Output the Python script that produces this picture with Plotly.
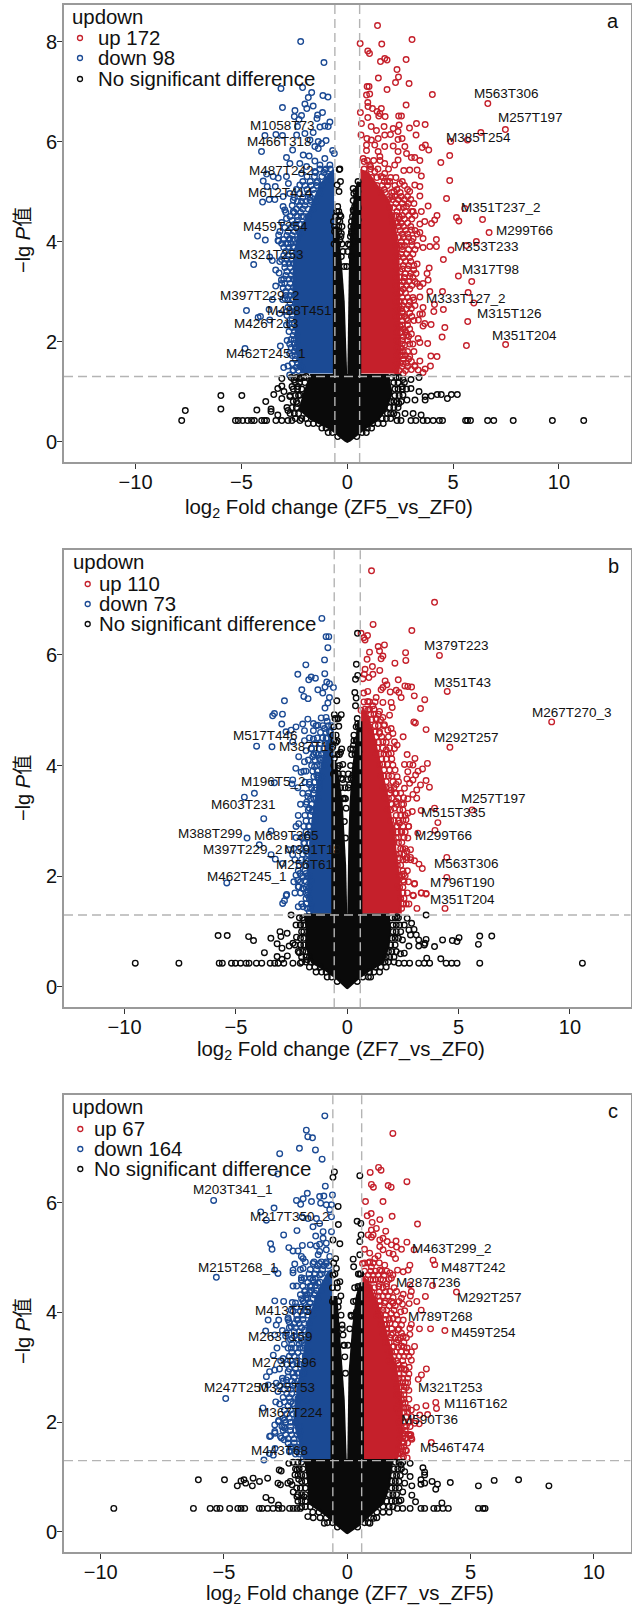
import plotly.graph_objects as go

W, H = 632, 1607
RED, BLUE, BLACK = "#C5202B", "#1B4A94", "#0A0A0A"
FONT = "Liberation Sans, Arial, Noto Sans CJK SC"
THR_Y, THR_X = 1.30, 0.585

# ---------- panel a ----------
a_up = [(1.43,8.32),(3.06,8.04),(.61,7.96),(1.63,7.95),(.97,7.81),(1.05,7.76),(1.57,7.6),(1.77,7.66),(1.88,7.63),(2.78,7.64),(2.35,7.44),(2.42,7.29),(1.47,7.27),(2.28,7.18),(2.92,7.16),(.94,7.1),(1.03,7.1),(1.88,7.04),(1.06,6.95),(.91,6.93),(4.02,6.94),(.97,6.78),(2.78,6.73),(6.64,6.76),(.98,6.7),(1.19,6.66),(1.61,6.66),(1.41,6.6),(1.54,6.56),(.62,6.58),(1.49,6.51),(.97,6.48),(1.79,6.5),(2.43,6.51),(2.56,6.51),(.67,6.36),(1.13,6.3),(1.74,6.3),(2.45,6.33),(2.17,6.26),(2.94,6.27),(3.27,6.36),(3.68,6.34),(7.47,6.24),(1.38,6.22),(2.4,6.2),(6.31,6.18),(.65,6.13),(1.77,6.13),(2.04,6.14),(3.25,6.13),(.93,6.06),(1.14,6.03),(1.46,6.06),(2.4,6.04),(2.59,6.06),(4.89,6.0),(5.68,6.03),(.91,5.93),(1.3,5.93),(1.77,5.9),(2.17,5.91),(2.72,5.9),(3.54,5.88),(3.69,5.93),(3.85,5.83),(.91,5.82),(1.46,5.8),(2.4,5.8),(2.8,5.76),(4.84,5.72),(3.03,5.68),(3.19,5.68),(.75,5.66),(1.54,5.7),(2.4,5.63),(3.43,5.62),(4.42,5.58),(1.06,5.53),(1.77,5.56),(2.24,5.53),(2.67,5.42),(2.95,5.43),(3.3,5.43),(3.5,5.31),(4.84,5.22),(1.77,5.36),(2.48,5.16),(3.19,5.13),(3.43,5.1),(2.95,5.0),(3.43,4.91),(4.69,4.86),(3.82,4.71),(5.55,4.66),(2.8,4.7),(3.11,4.6),(3.5,4.6),(4.24,4.52),(5.16,4.48),(6.39,4.44),(5.27,4.41),(4.13,4.43),(3.98,4.36),(3.66,4.4),(3.43,4.35),(6.7,4.18),(3.43,4.18),(3.03,4.23),(3.11,4.06),(4.21,4.04),(3.58,4.06),(4.21,3.9),(3.9,3.9),(3.58,3.88),(6.1,4.0),(5.63,3.92),(4.9,3.83),(4.54,3.64),(5.25,3.31),(5.88,3.2),(3.87,3.47),(3.77,3.36),(3.3,3.55),(3.14,3.43),(3.82,3.23),(3.3,3.16),(3.58,3.16),(3.43,3.1),(2.95,3.3),(3.9,3.0),(4.5,3.0),(5.71,2.98),(3.43,2.89),(3.14,2.83),(5.98,2.77),(4.12,2.74),(3.58,2.68),(4.54,2.64),(3.03,2.66),(4.09,2.6),(3.43,2.55),(3.55,2.55),(2.8,2.46),(3.36,2.43),(5.69,2.4),(3.66,2.36),(3.58,2.31),(3.96,2.34),(4.61,2.28),(3.03,2.15),(2.8,2.13),(3.35,2.06),(4.48,2.09),(3.43,1.98),(3.8,1.96),(5.63,1.92),(7.48,1.94),(2.72,1.93),(3.95,1.71),(4.24,1.7),(2.48,1.71),(2.95,1.7),(3.43,1.61),(3.03,1.6),(3.93,1.51),(2.64,1.56),(3.68,1.45),(3.35,1.43),(3.03,1.44),(2.64,1.36),(3.58,1.38),(3.19,1.52),(2.4,2.0),(2.5,2.3),(2.45,2.7),(2.55,3.0),(2.5,3.4),(2.4,3.7),(2.6,3.9),(2.3,4.4),(2.45,4.5),(2.1,4.9),(2.2,5.0),(1.9,5.2),(1.6,5.3),(1.3,5.4),(1.1,5.5),(.8,5.6),(2.6,2.6),(2.7,3.2),(2.5,1.8),(2.75,2.2)]
a_down = [(-2.2,8.0),(-1.1,7.58),(-3.13,7.06),(-2.11,7.08),(-1.68,6.98),(-1.84,6.88),(-1.15,6.92),(-.91,6.89),(-2.0,6.75),(-1.61,6.71),(-1.91,6.66),(-3.06,6.68),(-2.47,6.62),(-2.5,6.5),(-2.16,6.52),(-2.28,6.44),(-1.17,6.58),(-1.4,6.53),(-1.43,6.46),(-.82,6.39),(-1.06,6.31),(-1.29,6.29),(-.9,6.3),(-2.35,6.3),(-3.89,6.12),(-3.37,6.14),(-3.06,6.12),(-2.39,6.13),(-2.0,6.16),(-1.61,6.18),(-1.76,6.03),(-1.37,6.0),(-1.0,6.02),(-1.21,5.96),(-1.53,5.9),(-1.37,5.86),(-4.05,5.8),(-2.58,5.83),(-.69,5.82),(-.61,5.76),(-2.87,5.68),(-2.08,5.73),(-1.8,5.71),(-1.06,5.66),(-1.53,5.61),(-2.71,5.56),(-2.24,5.56),(-.82,5.53),(-1.29,5.53),(-1.92,5.5),(-3.81,5.35),(-3.5,5.3),(-3.26,5.27),(-2.87,5.3),(-2.16,5.36),(-1.53,5.4),(-1.06,5.43),(-3.97,5.21),(-3.78,5.1),(-3.4,5.1),(-2.78,5.16),(-2.24,5.13),(-1.45,5.18),(-.74,5.23),(-3.69,4.84),(-4.0,4.79),(-3.42,4.84),(-3.03,4.9),(-2.71,4.96),(-2.55,4.83),(-2.16,4.8),(-1.76,4.83),(-3.03,4.7),(-2.95,4.63),(-2.55,4.6),(-2.16,4.5),(-2.87,4.46),(-3.1,4.38),(-2.55,4.33),(-3.18,4.2),(-4.24,4.11),(-3.87,4.03),(-3.24,4.13),(-3.24,4.01),(-2.71,4.06),(-2.24,4.16),(-2.55,3.9),(-3.27,4.02),(-2.8,3.96),(-3.66,3.69),(-3.54,3.62),(-4.42,3.54),(-3.19,3.6),(-3.38,3.43),(-3.22,3.37),(-3.11,3.23),(-3.38,3.11),(-3.03,3.07),(-3.54,2.84),(-2.95,2.86),(-3.69,2.64),(-4.76,2.62),(-3.19,2.56),(-4.21,2.48),(-4.1,2.5),(-3.66,2.43),(-2.87,2.33),(-2.84,2.02),(-2.72,1.95),(-4.83,1.86),(-3.16,1.91),(-2.72,1.76),(-2.4,1.86),(-2.8,1.51),(-3.0,1.48),(-2.56,1.43),(-2.72,1.33),(-2.24,1.5)]
a_none = [(-7.82,.42),(-5.28,.42),(-5.15,.42),(-4.94,.42),(-4.71,.42),(-4.52,.42),(-4.39,.42),(-4.04,.42),(-3.91,.42),(-3.81,.42),(-3.37,.42),(-3.09,.42),(-2.8,.42),(-2.61,.42),(-2.23,.42),(2.35,.42),(2.54,.42),(3.01,.42),(3.24,.42),(3.58,.42),(3.78,.42),(4.06,.42),(4.35,.42),(4.5,.42),(5.59,.42),(5.68,.42),(5.82,.42),(6.63,.42),(6.92,.42),(7.84,.42),(9.69,.42),(11.17,.42),(-7.65,.62),(-5.97,.92),(-4.98,.92),(-5.97,.65),(-4.27,.63),(-3.85,.8),(-3.6,.65),(-3.6,.6),(-3.47,.94),(-3.28,1.06),(-3.09,1.11),(-2.99,1.0),(-3.09,.86),(-2.61,1.1),(-2.33,1.1),(-2.23,.93),(-2.71,.9),(-2.36,.76),(-3.28,.53),(-2.8,.62),(-3.09,1.26),(-2.52,1.23),(-2.23,1.26),(-1.94,1.3),(2.63,1.24),(3.01,1.24),(3.39,1.28),(2.59,1.1),(3.01,1.06),(3.39,1.0),(3.68,.9),(3.97,.91),(4.25,.94),(4.44,.94),(4.73,.86),(4.92,.94),(5.2,.94),(2.63,.93),(2.82,.83),(3.2,.83),(2.44,.76),(2.35,.53),(2.73,.56),(3.11,.56),(3.49,.53),(3.68,.83),(-.35,5.45),(-.32,5.2),(-.39,5.0),(-.48,5.13),(.51,5.2),(.28,5.06),(.31,4.96),(.28,4.82),(.43,4.9),(.51,4.66),(.28,4.63),(.35,4.46),(.51,4.43),(-.35,4.53),(-.43,4.43),(-.28,4.16),(-.51,4.23),(.2,4.16),(.12,3.93),(.31,4.0),(-.35,4.03),(-.28,3.7),(.2,3.7),(-.38,5.44)]
a_up_rows = {5.62:[.95,1.25,1.55],5.45:[.8,1.1,1.45,1.95],5.28:[1.15,1.4,1.7,2.05,2.3],5.12:[1.4,1.65,1.9,2.25,2.7],4.98:[1.6,1.8,2.1,2.5],4.84:[1.95,2.15,2.4,2.7,3.0],4.68:[2.0,2.2,2.45,2.65],4.52:[2.1,2.3,2.6,2.9,3.2],4.37:[2.15,2.35,2.55,2.85],4.22:[2.25,2.5,2.75,3.2],4.08:[2.25,2.45,2.65,2.9],3.92:[2.3,2.5,2.7,3.05,3.3],3.75:[2.3,2.55,2.8,3.1],3.6:[2.3,2.5,2.75,3.0],3.45:[2.3,2.6,2.85],3.28:[2.3,2.5,2.7,3.1],3.12:[2.3,2.55,2.8,3.05],2.97:[2.3,2.5,2.75],2.8:[2.3,2.5,2.7,2.95],2.65:[2.3,2.55,2.8],2.5:[2.3,2.5,2.7,3.05],2.33:[2.35,2.6,2.85],2.18:[2.35,2.55,2.75],2.02:[2.35,2.6,2.85],1.87:[2.35,2.55],1.72:[2.35,2.6,2.75],1.57:[2.3,2.5,2.8],1.42:[2.3,2.45,2.75],
    5.2:[1.75,2.0,2.6],5.04:[1.75,2.35,2.85],4.9:[2.25,2.55,2.85],4.76:[2.3,2.6,2.9,3.15],4.6:[2.35,2.75,3.05],4.45:[2.45,2.7,3.05],4.3:[2.45,2.65,3.0],4.15:[2.6,2.85,3.3],4.0:[2.55,2.8,3.05],3.84:[2.6,2.9,3.2],3.68:[2.65,2.95],3.52:[2.65,2.9,3.15],3.36:[2.75,3.0,3.25],3.2:[2.6,2.9,3.2],3.05:[2.65,2.95],2.88:[2.6,2.85,3.1],2.72:[2.6,2.9,3.2],2.57:[2.6,2.95],2.42:[2.6,2.85,3.15],2.25:[2.65,2.95],2.1:[2.65,2.9],1.95:[2.6,2.95,3.1],1.8:[2.65,2.85,3.15],1.65:[2.65,2.9],1.5:[2.6,2.85,3.2]}
a_down_rows = {5.45:[-.8,-1.0,-1.3],5.3:[-.9,-1.2,-1.55,-1.9],5.12:[-1.2,-1.45,-1.7,-2.0],4.96:[-1.3,-1.55,-1.85,-2.25],4.8:[-1.45,-1.7,-1.95,-2.35],4.65:[-1.6,-1.85,-2.1,-2.4],4.5:[-1.85,-2.05,-2.35,-2.7],4.35:[-2.0,-2.25,-2.45],4.2:[-2.3,-2.5,-2.8],4.04:[-2.35,-2.55,-2.75,-3.0],3.88:[-2.55,-2.75,-3.0],3.72:[-2.55,-2.8,-3.0],3.56:[-2.55,-2.75,-2.95],3.4:[-2.55,-2.85],3.25:[-2.55,-2.75,-3.0],3.08:[-2.55,-2.8],2.92:[-2.5,-2.7,-2.9],2.76:[-2.45,-2.7],2.6:[-2.45,-2.65,-2.85],2.44:[-2.4,-2.6],2.28:[-2.4,-2.6],2.12:[-2.35,-2.55],1.96:[-2.35,-2.5],1.8:[-2.3,-2.5],1.64:[-2.25,-2.45],1.48:[-2.15,-2.4],
    5.38:[-1.1,-1.5],5.2:[-1.4,-1.75,-2.1],5.04:[-1.6,-1.9,-2.4],4.88:[-1.75,-2.1,-2.5],4.72:[-2.0,-2.25,-2.6],4.58:[-2.2,-2.5,-2.9],4.42:[-2.35,-2.6],4.28:[-2.4,-2.65,-2.95],4.12:[-2.6,-2.85],3.96:[-2.65,-2.9,-3.1],3.8:[-2.65,-2.9],3.64:[-2.65,-2.85,-3.1],3.48:[-2.7,-2.95],3.32:[-2.65,-2.9],3.16:[-2.7,-2.95,-3.1],3.0:[-2.65,-2.9],2.84:[-2.6,-2.8,-3.05],2.68:[-2.6,-2.8],2.52:[-2.6,-2.85],2.36:[-2.6,-2.75],2.2:[-2.5,-2.75],2.04:[-2.5,-2.65],1.88:[-2.45,-2.65],1.72:[-2.45,-2.6],1.56:[-2.35,-2.6],1.42:[-2.3,-2.55]}
a_none_rows = {1.28:[-2.05,-2.2,-2.4,-2.65,2.1,2.3,2.45],1.18:[-2.0,-2.25,-2.45,2.2,2.4,2.7],1.05:[-2.15,-2.35,-2.55,2.25,2.4,2.6,2.8],.92:[-2.3,-2.45,-2.7,2.25,2.45],.8:[-2.4,-2.55,2.05,2.2,2.35,2.55],.68:[-2.4,-2.6,-2.85,2.0,2.2,2.4],.56:[-2.3,-2.5,-2.7,1.9,2.05,2.2],.46:[-1.95,-2.15,-2.45,1.65,1.85,2.05],.36:[-1.35,-1.6,-1.85,1.2,1.45,1.7],.27:[-1.0,-1.2,.95,1.15],.18:[-.7,-.9,.7,.9],.1:[-.45,.45],5.0:[.4,.5],4.7:[.35,.5,-.45],4.5:[.25,.4,-.55,-.3],4.3:[.18,.3,-.6,-.4,-.25],4.1:[.15,-.5,-.3],3.95:[-.62,-.45,-.25,.05],3.8:[-.2,.02],3.5:[-.15,-.02],4.6:[.3,.42,-.4,-.5],4.4:[.2,.45,-.35,-.65],4.2:[.2,.35,-.6,-.4]}
a_up_mass = [(.62,1.36),(2.45,1.36),(2.55,1.8),(2.5,2.4),(2.5,3.1),(2.45,3.8),(2.3,4.3),(2.0,4.83),(1.5,5.1),(1.0,5.4),(.62,5.45)]
a_down_mass = [(-.62,1.36),(-2.2,1.36),(-2.45,1.8),(-2.5,2.4),(-2.6,3.1),(-2.55,3.76),(-2.35,4.16),(-1.95,4.5),(-1.3,5.16),(-.8,5.4),(-.62,5.45)]
a_none_masses = [
    [(0,-.03),(-.13,0),(-.8,.23),(-1.75,.43),(-2.3,.63),(-2.1,.96),(-1.75,1.35),(1.96,1.35),(2.15,.96),(1.87,.63),(1.5,.43),(.82,.23),(.15,0)],
    [(-.68,1.3),(-.68,4.3),(-.42,4.3),(-.26,3.6),(-.12,2.8),(-.06,2.2),(0,1.3)],
    [(0,1.3),(.02,2.2),(.04,2.8),(.08,3.6),(.14,4.2),(.28,4.8),(.45,5.2),(.66,5.2),(.66,1.3)]]
a_labels = [("M563T306",7.52,6.96),("M257T197",8.65,6.48),("M385T254",6.18,6.08),("M351T237_2",7.25,4.68),("M299T66",8.39,4.22),("M353T233",6.56,3.9),("M317T98",6.77,3.44),("M333T127_2",5.62,2.86),("M315T126",7.68,2.56),("M351T204",8.35,2.12),("M397T229_2",-4.14,2.93),("M488T451",-2.27,2.63),("M426T213",-3.81,2.36),("M462T245_1",-3.85,1.76),("M1058T73",-3.06,6.32),("M466T318",-3.21,6.0),("M487T242",-3.1,5.42),("M612T414",-3.15,4.99),("M459T254",-3.39,4.3),("M321T253",-3.56,3.74)]

# ---------- panel b ----------
b_up = [(1.09,7.52),(3.92,6.95),(1.16,6.55),(2.9,6.44),(.62,6.39),(.91,6.35),(.74,6.31),(.8,6.27),(1.39,6.15),(1.67,6.18),(1.0,6.05),(1.45,6.07),(2.62,6.04),(4.14,5.99),(1.6,5.98),(1.52,5.93),(.89,5.92),(2.63,5.9),(2.14,5.85),(1.13,5.79),(.8,5.74),(1.46,5.72),(.77,5.65),(1.15,5.65),(.97,5.59),(.7,5.57),(1.7,5.53),(2.29,5.55),(1.78,5.46),(1.6,5.41),(1.52,5.37),(2.59,5.44),(2.72,5.43),(2.89,5.42),(4.49,5.34),(1.93,5.33),(2.2,5.36),(2.32,5.32),(.92,5.34),(.74,5.31),(2.42,5.23),(3.01,5.26),(3.48,5.19),(1.3,5.23),(1.6,5.14),(1.97,5.14),(.92,5.16),(2.02,5.05),(3.29,5.03),(1.15,5.08),(.62,5.0),(1.45,4.98),(.92,5.0),(1.9,4.91),(1.6,4.87),(1.3,4.85),(2.99,4.79),(3.06,4.77),(9.18,4.79),(1.67,4.74),(3.54,4.65),(1.97,4.67),(1.82,4.64),(1.45,4.58),(1,4.7),(2.05,4.58),(2.51,4.52),(2.12,4.43),(1.6,4.43),(4.61,4.33),(2.24,4.37),(2.12,4.31),(1.75,4.28),(1.97,4.22),(2.69,4.2),(3.04,4.13),(2.57,4.02),(2.8,4.02),(2.95,4.01),(3.6,4.04),(3.38,3.94),(2.05,4.01),(3.18,3.9),(2.72,3.89),(3.07,3.83),(2.24,3.8),(2.68,3.76),(2.95,3.74),(3.54,3.73),(3.29,3.65),(2.8,3.68),(3.69,3.61),(2.2,3.66),(2.57,3.59),(3.12,3.56),(1.97,3.56),(2.2,3.5),(2.95,3.48),(2.53,3.42),(2.72,3.4),(3.12,3.41),(2.53,3.3),(2.2,3.35),(5.61,3.2),(3.92,3.23),(3.32,3.19),(2.92,3.17),(2.72,3.14),(2.12,3.23),(2.64,3.02),(4.07,2.97),(2.35,2.96),(2.76,2.9),(2.2,2.9),(3.94,2.83),(3.17,2.78),(2.42,2.81),(2.72,2.69),(2.2,2.69),(2.5,2.49),(2.84,2.48),(2.68,2.45),(4.47,2.34),(2.68,2.34),(2.84,2.34),(2.35,2.33),(3.02,2.28),(3.22,2.22),(3.37,2.14),(2.35,2.02),(2.53,2.04),(4.47,1.98),(2.5,1.93),(3.02,1.87),(2.27,1.81),(3.32,1.7),(3.54,1.69),(2.95,1.66),(3.02,1.86),(3.33,1.7),(3.54,1.68),(2.97,1.65),(2.77,1.5),(3.13,1.42),(4.39,1.42),(2.39,1.6),(2.44,1.42)]
b_down = [(-1.14,6.66),(-.95,6.33),(-.83,6.33),(-.87,6.13),(-1.02,5.91),(-1.86,5.82),(-2.22,5.65),(-1.01,5.66),(-1.62,5.6),(-1.73,5.55),(-1.43,5.58),(-.92,5.51),(-.8,5.48),(-.62,5.41),(-1.0,5.42),(-2.04,5.37),(-1.32,5.37),(-1.1,5.31),(-1.95,5.25),(-1.76,5.21),(-2.82,5.17),(-.8,5.23),(-.87,5.13),(-1.0,5.04),(-3.27,4.94),(-3.35,4.9),(-2.91,4.93),(-1.77,4.84),(-1.17,4.86),(-.95,4.87),(-.9,4.8),(-2.94,4.75),(-2.0,4.75),(-2.3,4.7),(-1.52,4.76),(-1.32,4.73),(-2.52,4.64),(-1.02,4.67),(-1.92,4.63),(-1.52,4.63),(-2.75,4.61),(-.8,4.61),(-1.92,4.45),(-1.52,4.48),(-4.07,4.35),(-3.38,4.34),(-2.45,4.43),(-.95,4.49),(-1.85,4.27),(-1.62,4.31),(-1.4,4.22),(-1.25,4.13),(-2.18,4.16),(-1.92,4.07),(-1.55,4.16),(-1.1,4.13),(-2.31,3.95),(-2.07,3.88),(-1.85,3.9),(-1.47,3.98),(-1.37,3.83),(-1.32,3.77),(-3.27,3.69),(-2.45,3.74),(-2.48,3.67),(-2.22,3.6),(-1.7,3.66),(-1.25,3.7),(-4.17,3.5),(-4.62,3.43),(-1.77,3.44),(-1.47,3.56),(-1.82,3.34),(-1.4,3.41),(-1.7,3.23),(-1.58,3.17),(-3.75,3.04),(-1.43,3.08),(-2.18,2.95),(-1.73,2.9),(-3.42,2.82),(-2.0,2.69),(-4.5,2.69),(-1.77,2.75),(-3.95,2.57),(-2.63,2.48),(-1.92,2.6),(-3.42,2.39),(-3.23,2.31),(-2.45,2.39),(-1.85,2.45),(-2.9,2.23),(-2.15,2.2),(-1.77,2.27),(-2.3,2.02),(-2.12,2.05),(-1.85,2.05),(-5.41,1.88),(-2.22,1.93),(-1.92,1.92),(-1.62,1.93),(-2.18,1.81),(-2.0,1.78),(-1.77,1.72),(-2.72,1.67),(-2.74,1.65),(-2.82,1.56),(-2.9,1.51),(-2.2,1.81),(-1.95,1.77),(-2.2,1.45),(-1.98,1.45),(-1.7,1.36),(-1.62,1.48),(-1.79,1.66)]
b_none = [(.46,6.39),(.41,5.83),(.47,5.63),(.37,5.56),(.34,5.32),(.4,5.22),(.37,5.08),(.47,4.76),(.4,4.46),(.28,4.37),(.52,4.25),(-.47,5.17),(-.58,4.92),(-.27,4.92),(-.47,4.84),(-.38,4.71),(-.65,4.55),(-.5,4.42),(-.65,4.34),(-.3,4.24),(-.58,4.13),(-.2,4.02),(-.43,3.95),(-.27,3.77),(-.5,3.65),(.25,3.83),(.17,3.77),(-.13,3.41),(-.05,3.23),(-.13,2.99),(-.08,2.69),(.1,3.65),(-9.52,.43),(-7.56,.43),(-5.75,.43),(-5.61,.43),(-5.2,.43),(-5.02,.43),(-4.79,.43),(-4.54,.43),(-4.41,.43),(-4.08,.43),(-3.84,.43),(-3.46,.43),(-3.26,.43),(-3.1,.43),(-2.85,.43),(-2.44,.43),(-2.11,.43),(2.31,.43),(2.56,.43),(2.8,.43),(3.21,.43),(3.46,.43),(3.7,.43),(4.44,.43),(4.69,.43),(4.93,.43),(5.95,.43),(10.56,.43),(-5.8,.93),(-5.39,.93),(-4.43,.91),(-4.21,.84),(-3.43,.88),(-3.02,1.0),(-2.98,.91),(-2.7,.97),(-3.15,.78),(-2.93,.7),(-2.28,.9),(-2.52,1.3),(-2.11,1.12),(-1.95,1.21),(-2.44,.79),(-2.61,.74),(-2.11,.76),(-2.15,.62),(-3.72,.62),(-3.15,.55),(-2.93,.5),(-2.69,.56),(-1.79,.49),(3.54,1.3),(2.69,1.24),(2.89,1.15),(2.23,1.27),(2.56,1.12),(2.77,1.03),(3.0,1.04),(3.1,.94),(2.84,.94),(3.21,.85),(3.54,.86),(3.49,.79),(3.21,.74),(3.46,.76),(2.77,.74),(3.92,.73),(4.28,.85),(4.72,.84),(4.93,.82),(5.02,.89),(5.95,.92),(5.89,.77),(6.49,.92),(4.2,.51),(3.57,.52),(2.48,.85),(2.39,.6),(2.56,.61)]
b_up_rows = {5.02:[.8,1.0,1.2],4.83:[.9,1.1,1.3,1.5],4.61:[1.05,1.25,1.45],4.42:[1.2,1.4,1.75],4.21:[1.3,1.5,1.65,1.85],4.02:[1.45,1.6,1.8],3.81:[1.5,1.65,1.85,2.0],3.6:[1.6,1.75,1.9,2.1],3.41:[1.7,1.85,2.0,2.3],3.2:[1.8,1.95,2.35,2.5],3.01:[1.95,2.1,2.3,2.5],2.8:[2.05,2.25,2.45,2.6],2.61:[2.1,2.3,2.45],2.4:[2.2,2.35,2.55],2.2:[2.25,2.4],2.01:[2.3,2.45,2.6],1.8:[2.35,2.5],1.6:[2.4,2.55],
    5.15:[.75,1.0,1.25],4.93:[1.05,1.2,1.4],4.72:[1.25,1.4,1.65],4.52:[1.3,1.55,1.85],4.32:[1.35,1.6,1.9],4.12:[1.55,1.75,2.0],3.92:[1.65,1.9,2.15],3.71:[1.75,2.05,2.3],3.5:[1.9,2.15,2.4],3.3:[2.0,2.2,2.45],3.1:[2.2,2.4,2.6],2.9:[2.25,2.5,2.75],2.7:[2.3,2.55],2.5:[2.4,2.6],2.3:[2.5,2.65,2.85],2.1:[2.5,2.7],1.9:[2.55,2.75],1.7:[2.5,2.7],1.5:[2.5,2.65]}
b_down_rows = {4.6:[-.75,-.95,-1.2],4.4:[-.8,-1.0,-1.2,-1.45],4.2:[-.95,-1.15,-1.3,-1.5],4.0:[-1.05,-1.2,-1.35,-1.6],3.8:[-1.15,-1.3,-1.5],3.6:[-1.25,-1.4,-1.6],3.4:[-1.3,-1.5,-1.65],3.2:[-1.4,-1.55,-1.75],3.0:[-1.45,-1.6,-1.85],2.8:[-1.5,-1.65,-1.85],2.6:[-1.55,-1.7,-1.95],2.4:[-1.6,-1.75,-2.0],2.2:[-1.7,-1.9],2.0:[-1.7,-1.8,-2.0],1.8:[-1.7,-1.85],1.6:[-1.7,-1.85],1.42:[-1.65,-1.8],
    4.72:[-.7,-.85,-1.1,-1.4],4.5:[-.9,-1.1,-1.35,-1.7],4.3:[-1.05,-1.25,-1.6],4.1:[-1.2,-1.45,-1.75],3.9:[-1.35,-1.55,-1.95],3.7:[-1.45,-1.7,-1.9],3.5:[-1.5,-1.75,-2.0],3.3:[-1.6,-1.85,-2.1],3.1:[-1.65,-1.9,-2.2],2.9:[-1.7,-1.95,-2.3],2.7:[-1.8,-2.05,-2.3],2.5:[-1.85,-2.1,-2.4],2.3:[-1.85,-2.05,-2.35],2.1:[-1.9,-2.2],1.9:[-1.85,-2.1,-2.4],1.7:[-1.85,-2.1,-2.35],1.5:[-1.85,-2.05]}
b_none_rows = {1.25:[-2.0,-2.15,2.0,2.15,2.3],1.12:[-1.95,-2.1,-2.3,2.05,2.2,2.35],1.0:[-1.95,-2.05,2.05,2.2,2.4],.88:[-1.95,-2.1,2.0,2.15,2.3],.76:[-1.95,-2.1,-2.35,1.95,2.15],.64:[-1.85,-2.0,-2.2,1.85,2.0,2.2],.54:[-1.7,-1.85,-2.05,1.75,1.9,2.1],.45:[-1.65,-1.85,-2.05,1.7,1.85,2.1],.36:[-1.2,-1.45,-1.7,1.25,1.5,1.75],.27:[-.95,-1.15,-1.4,1.0,1.2,1.45],.18:[-.7,-.9,.7,.95,1.05],.1:[-.45,.45],4.7:[.4,.5,-.6],4.45:[.3,.45,-.6,-.45],4.2:[.2,.35,-.65,-.45,-.35],4.0:[.15,-.6,-.35],3.85:[-.62,-.4,-.2,.05],3.6:[-.3,-.1,.05],3.4:[-.2,-.08],4.3:[-.25,.15,.25],4.55:[-.5,.3],4.85:[-.55,-.4,.45],3.75:[-.2,.02]}
b_up_mass = [(.62,1.33),(2.45,1.33),(2.45,1.7),(2.3,2.24),(2.1,2.84),(1.85,3.44),(1.55,4.0),(1.2,4.6),(.85,5.0),(.62,5.0)]
b_down_mass = [(-.62,1.33),(-1.65,1.33),(-1.8,1.6),(-1.8,2.0),(-1.7,2.6),(-1.55,3.2),(-1.3,3.8),(-1.0,4.3),(-.75,4.6),(-.62,4.6)]
b_none_masses = [
    [(0,-.04),(-.05,-.03),(-.48,.13),(-.97,.28),(-1.62,.43),(-1.9,.73),(-1.87,1.03),(-1.95,1.33),(1.9,1.33),(1.98,1.03),(1.9,.73),(1.66,.43),(1,.28),(.5,.13),(.05,-.03)],
    [(-.72,1.3),(-.72,4.1),(-.5,4.1),(-.32,3.7),(-.2,3.3),(-.1,2.7),(-.05,2.2),(0,1.3)],
    [(0,1.3),(.02,2.0),(.05,2.7),(.1,3.3),(.2,3.9),(.35,4.4),(.45,4.8),(.68,4.8),(.68,1.3)]]
b_labels = [("M517T446",-3.68,4.55),("M387T18",-1.77,4.34),("M196T5_2",-3.3,3.71),("M603T231",-4.67,3.29),("M388T299",-6.16,2.77),("M689T365",-2.75,2.73),("M397T229_2",-4.68,2.48),("M391T18",-1.55,2.48),("M256T61",-1.93,2.22),("M462T245_1",-4.52,2.0),("M379T223",4.92,6.17),("M351T43",5.18,5.51),("M267T270_3",10.11,4.96),("M292T257",5.37,4.5),("M257T197",6.56,3.41),("M515T335",4.77,3.16),("M299T66",4.34,2.74),("M563T306",5.34,2.24),("M796T190",5.19,1.89),("M351T204",5.18,1.58)]

# ---------- panel c ----------
c_up = [(1.85,7.26),(1.27,6.64),(1.37,6.59),(.93,6.55),(2.42,6.38),(.98,6.33),(1.06,6.28),(1.66,6.31),(1.78,6.28),(.74,6.02),(1.45,6.02),(.97,5.8),(.81,5.76),(1.82,5.75),(1.32,5.69),(1.01,5.64),(2.85,5.61),(1.18,5.53),(.98,5.5),(1.56,5.48),(.85,5.41),(1.05,5.41),(.98,5.37),(1.45,5.35),(1.32,5.32),(1.98,5.3),(2.42,5.28),(1.62,5.29),(1.79,5.23),(1.32,5.2),(2.0,5.19),(2.2,5.15),(.7,5.15),(2.71,5.14),(1.45,5.14),(.91,5.08),(1.7,5.08),(1.25,5.03),(1.86,5.06),(1.96,4.98),(1.12,4.98),(3.48,4.95),(3.55,4.87),(2.54,4.86),(.62,4.89),(.91,4.92),(1.52,4.86),(2.47,4.77),(2.27,4.74),(2.04,4.77),(1.73,4.72),(1.32,4.77),(.98,4.83),(1.79,4.62),(1.05,4.59),(1.45,4.59),(3.46,4.49),(2.54,4.5),(1.59,4.47),(4.43,4.37),(2.6,4.38),(2.27,4.33),(2,4.38),(1.73,4.38),(1.28,4.47),(3.17,4.29),(2.56,4.3),(2.2,4.26),(1.86,4.27),(1.32,4.21),(2.82,4.2),(2.51,4.16),(2.24,4.15),(1.86,4.17),(1.52,4.17),(2.17,4.01),(2.33,4.03),(3.0,4.04),(1.79,3.98),(1.45,4.04),(1.25,3.97),(1.86,3.89),(2.27,3.86),(2.6,3.78),(2.2,3.77),(1.73,3.8),(2.93,3.7),(3.38,3.7),(3.96,3.67),(2.54,3.71),(2.06,3.68),(2.54,3.6),(2.27,3.56),(1.79,3.59),(1.93,3.53),(2.06,3.5),(2.73,3.38),(2.2,3.39),(2.43,3.35),(2.6,3.28),(2.2,3.28),(1.89,3.38),(2.6,3.13),(2.06,3.07),(3.21,2.97),(2.51,3.0),(2.37,2.95),(2.2,2.98),(3.01,2.86),(2.88,2.78),(2.36,2.72),(2.4,2.63),(2.06,2.71),(2.16,2.5),(2.2,2.4),(3.59,2.36),(3.62,2.25),(3.19,2.3),(2.81,2.27),(2.37,2.26),(2.6,2.22),(3.26,2.14),(2.94,2.13),(2,2.25),(2.2,2.07),(2.54,2.01),(2.74,1.98),(2.33,1.92),(2.56,1.75),(2.6,1.71),(2.27,1.74),(3.41,1.63),(2.58,1.77),(2.62,1.69),(2.92,1.97),(2.25,1.65),(2.18,1.55),(2.37,1.49),(2.28,1.37),(2.43,1.35),(2.13,1.43),(2.55,1.92),(2.25,1.8)]
c_down = [(-.91,7.58),(-1.66,7.32),(-1.6,7.2),(-1.41,7.18),(-2.74,6.89),(-1.94,6.99),(-1.29,6.96),(-1.02,6.79),(-2.81,6.52),(-.89,6.3),(-1.62,6.17),(-.6,6.14),(-5.42,6.04),(-2.06,6.04),(-1.79,6.07),(-1.45,6.02),(-1.12,6.11),(-.95,6.12),(-1.89,5.97),(-1.08,5.99),(-.85,5.96),(-2.97,5.9),(-.64,5.96),(-3.51,5.83),(-.71,5.87),(-1.83,5.74),(-1.59,5.71),(-1.25,5.71),(-.64,5.74),(-3.28,5.68),(-1.39,5.56),(-1.12,5.62),(-2.04,5.49),(-2.58,5.41),(-1.28,5.39),(-.98,5.47),(-.64,5.47),(-.98,5.35),(-3.11,5.25),(-3.05,5.15),(-2.37,5.18),(-1.82,5.22),(-1.5,5.23),(-1.25,5.21),(-1.12,5.24),(-.85,5.26),(-2.2,5.12),(-2.0,5.12),(-.85,5.14),(-1.12,5.11),(-1.86,5.02),(-1.79,4.98),(-1.18,5.05),(-.71,5.02),(-2.13,4.88),(-1.39,4.89),(-1.79,4.8),(-1.12,4.89),(-.85,4.89),(-2.94,4.77),(-2.81,4.71),(-2.2,4.77),(-2.2,4.72),(-5.31,4.64),(-1.86,4.63),(-1.86,4.59),(-1.39,4.59),(-1.12,4.68),(-2.2,4.48),(-1.45,4.47),(-1.18,4.53),(-1.73,4.38),(-1.52,4.36),(-1.32,4.35),(-1.68,4.26),(-1.79,4.21),(-2.94,4.21),(-2.58,4.2),(-2.23,4.18),(-1.52,4.17),(-1.73,4.04),(-2.27,4.04),(-3.21,3.86),(-2.4,3.9),(-2.78,3.86),(-2.88,3.77),(-2.36,3.83),(-2,3.86),(-2.13,3.8),(-2.27,3.74),(-3.31,3.66),(-2.63,3.67),(-2.47,3.62),(-2.94,3.59),(-1.73,3.68),(-1.86,3.47),(-2.23,3.53),(-2.85,3.35),(-2.4,3.35),(-2.27,3.35),(-1.93,3.35),(-3,3.22),(-1.52,3.28),(-2.6,3.16),(-2.04,3.07),(-3.15,2.92),(-2.94,2.95),(-2.63,2.8),(-3.28,2.83),(-2.4,2.92),(-2.04,2.89),(-1.73,2.89),(-2.88,2.71),(-2.47,2.77),(-3.21,2.68),(-2.13,2.71),(-4.93,2.43),(-1.79,2.59),(-2.81,2.56),(-2.74,2.33),(-3.42,2.26),(-2.0,2.43),(-2.2,2.34),(-1.66,2.4),(-2.78,2.03),(-2.94,1.95),(-2.54,2.04),(-2.58,1.91),(-3.15,1.74),(-2.94,1.83),(-1.93,1.92),(-1.93,1.8),(-2.67,1.71),(-3.11,1.75),(-2.93,1.8),(-2.53,1.89),(-2.79,2.01),(-2.04,1.77),(-1.93,1.83),(-2.56,1.68),(-2.71,1.74),(-2.93,1.52),(-3.16,1.43),(-3.38,1.31),(-3.0,1.4),(-2.34,1.46),(-1.9,1.46),(-1.78,1.34),(-2.19,1.55)]
c_none = [(.51,6.49),(-.52,6.56),(-.58,6.46),(-.37,5.93),(-.36,5.6),(.4,5.66),(.55,5.62),(.56,5.41),(-.3,5.25),(-.58,5.32),(.51,5.29),(.51,5.05),(.24,4.97),(.26,4.83),(.51,4.7),(-.47,4.98),(-.55,4.9),(-.44,4.8),(-.58,4.68),(-.41,4.54),(-.3,4.56),(.35,4.21),(.51,4.29),(.44,4.47),(.17,3.93),(.37,4.01),(-.21,3.77),(-.17,3.59),(-.14,3.4),(-.1,3.19),(-.07,2.89),(-.26,4.3),(-.37,4.1),(-9.47,.43),(-6.24,.43),(-5.56,.43),(-5.3,.43),(-5.16,.43),(-4.77,.43),(-4.44,.43),(-4.31,.43),(-4.16,.43),(-3.57,.43),(-3.45,.43),(-3.23,.43),(-3.01,.43),(-2.79,.43),(-2.64,.43),(-2.34,.43),(-2.19,.43),(-2.04,.43),(-1.9,.43),(2.03,.43),(2.25,.43),(2.55,.43),(2.99,.43),(3.14,.43),(3.51,.43),(3.66,.43),(3.88,.43),(4.1,.43),(5.32,.43),(5.51,.43),(5.59,.43),(-6.04,.95),(-4.98,.95),(-4.31,.93),(-4.19,.95),(-4.12,.89),(-4.46,.84),(-3.85,.84),(-3.82,.98),(-3.56,.92),(-3.23,.98),(-2.81,.89),(-2.71,.86),(-2.41,.89),(-2.24,.86),(-2.31,.92),(-1.97,.96),(-2.76,1.13),(-2.68,1.11),(-2.37,1.25),(-2.12,1.04),(-2.04,1.13),(-2.19,.73),(-2.04,.64),(-3.3,.63),(-3.08,.58),(-2.79,.49),(-1.75,.64),(-1.6,.28),(-1.38,.26),(-.93,.16),(3.07,1.17),(3.14,1.09),(3.14,1.04),(2.99,.95),(3.14,.89),(2.99,.87),(3.44,.92),(3.66,.87),(3.59,.78),(4.18,.9),(5.32,.84),(5.96,.94),(6.95,.95),(8.18,.84),(2.55,1.25),(2.18,1.22),(2.33,1.1),(2.55,1.01),(2.33,.89),(2.62,.84),(2.25,.73),(2.62,.67),(2.18,.58),(2.77,.55),(3.84,.53),(.92,.16),(1.07,.25)]
c_up_rows = {4.75:[.7,.95,1.15,1.4,1.6],4.6:[.75,.95,1.15,1.35,1.7],4.45:[.75,.9,1.1,1.45,1.9],4.3:[.9,1.1,1.25,1.45,1.65],4.12:[1.15,1.3,1.7,1.95],3.95:[1.2,1.35,1.55,2.0],3.78:[1.35,1.5,1.6,1.95],3.62:[1.45,1.6,1.85,2.2],3.45:[1.55,1.7,2.0,2.3],3.28:[1.65,1.8,1.95,2.4],3.12:[1.7,1.85,2.0,2.25],2.97:[1.9,2.0,2.1,2.3],2.8:[1.95,2.1,2.25,2.45],2.65:[2.0,2.15,2.3],2.5:[2.0,2.1,2.3],2.35:[2.1,2.25,2.35],2.18:[2.1,2.3,2.45],2.0:[2.1,2.3,2.5],1.85:[2.15,2.35],1.7:[2.15,2.35],1.55:[2.1,2.3],1.42:[2.05,2.2],
    4.9:[.7,.85,1.05,1.3],4.68:[.85,1.05,1.25,1.5,1.85],4.52:[.85,1.3,1.6],4.37:[1.0,1.3,1.55],4.2:[1.3,1.55,1.8,2.1],4.04:[1.3,1.6,1.9],3.87:[1.55,1.7,2.05],3.7:[1.6,1.8,2.1],3.54:[1.75,1.95,2.15,2.4],3.37:[1.85,2.05,2.3],3.2:[1.9,2.1,2.3,2.5],3.04:[2.1,2.3],2.88:[2.1,2.3,2.5],2.72:[2.25,2.45],2.58:[2.3,2.5],2.42:[2.3,2.5],2.26:[2.3,2.45],2.1:[2.4,2.6],1.93:[2.4],1.78:[2.35,2.5],1.62:[2.3,2.45],1.48:[2.25,2.4]}
c_down_rows = {4.85:[-.75,-.95,-1.2],4.7:[-.8,-1.05,-1.3,-1.55],4.55:[-.85,-1.1,-1.35,-1.6],4.4:[-1.05,-1.25,-1.45,-1.7],4.25:[-1.2,-1.4,-1.6,-1.85],4.1:[-1.25,-1.4,-1.6,-1.85,-2.05],3.95:[-1.4,-1.6,-1.8,-2.05],3.8:[-1.55,-1.75,-1.95],3.65:[-1.55,-1.7,-1.95,-2.15],3.5:[-1.6,-1.75,-2.0,-2.3],3.35:[-1.65,-1.8,-2.1],3.2:[-1.7,-1.85,-2.15,-2.35],3.05:[-1.75,-1.9,-2.2,-2.45],2.9:[-1.8,-1.95,-2.2],2.75:[-1.85,-2.0,-2.25,-2.6],2.6:[-1.9,-2.05,-2.3,-2.55],2.45:[-1.95,-2.1,-2.35,-2.6],2.3:[-2.0,-2.15,-2.4],2.15:[-2.05,-2.2,-2.45],2.0:[-2.1,-2.3,-2.5],1.85:[-2.1,-2.3,-2.6],1.7:[-1.95,-2.15,-2.4],1.55:[-1.9,-2.05,-2.3],1.42:[-1.75,-1.95,-2.1],
    4.92:[-.85,-1.05,-1.35,-1.7],4.78:[-1.0,-1.25,-1.5,-1.9],4.62:[-1.3,-1.5,-1.75],4.48:[-1.3,-1.5,-1.8,-2.05],4.32:[-1.35,-1.65,-1.9],4.17:[-1.5,-1.75,-2.1],4.02:[-1.65,-1.9,-2.2],3.87:[-1.8,-2.05,-2.4],3.72:[-1.85,-2.1,-2.35],3.57:[-1.9,-2.15,-2.5],3.42:[-1.95,-2.25,-2.55],3.27:[-2.0,-2.25],3.12:[-2.05,-2.3,-2.7],2.97:[-2.1,-2.35,-2.75],2.82:[-2.15,-2.4],2.67:[-2.2,-2.45,-2.75],2.52:[-2.25,-2.45],2.37:[-2.3,-2.55,-2.9],2.22:[-2.3,-2.55],2.07:[-2.35,-2.6],1.92:[-2.3,-2.65],1.77:[-2.25,-2.5],1.62:[-2.15,-2.4],1.48:[-2.1,-2.35]}
c_none_rows = {1.27:[-1.85,-2.0,-2.2,1.95,2.1,2.25],1.15:[-1.8,-1.95,-2.1,1.9,2.05,2.2],1.03:[-1.7,-1.85,-2.0,1.85,2.0,2.15],.92:[-1.7,-1.85,1.8,1.95,2.1],.8:[-1.7,-1.9,-2.05,1.8,1.95,2.1],.68:[-1.7,-1.85,-2.0,1.7,1.85,2.0],.56:[-1.7,-1.85,-2.0,1.6,1.8,1.95,2.1],.46:[-1.5,-1.7,-1.85,1.45,1.7,1.85],.36:[-1.15,-1.4,1.2,1.45,1.7],.26:[-.85,-1.1,.95,1.2],.17:[-.6,-.8,.7,.85],.09:[-.4,.42],4.7:[.45,.55,-.5],4.45:[.3,.45,-.6,-.4],4.2:[.25,-.6,-.35],3.95:[.15,.3,-.25],3.7:[.1,-.2],3.4:[.03,-.12]}
c_up_mass = [(.62,1.33),(2.05,1.33),(2.25,1.7),(2.25,2.3),(2.05,2.9),(1.7,3.5),(1.5,3.85),(1.25,4.15),(.9,4.55),(.62,4.7)]
c_down_mass = [(-.62,1.33),(-1.8,1.33),(-2.0,1.7),(-2.2,2.0),(-2.05,2.6),(-1.8,3.2),(-1.65,3.8),(-1.2,4.4),(-.8,4.75),(-.62,4.8)]
c_none_masses = [
    [(0,-.04),(-.05,-.03),(-.41,.1),(-.86,.28),(-1.6,.52),(-1.6,.83),(-1.75,1.33),(1.88,1.33),(1.73,.83),(1.5,.52),(.92,.28),(.47,.1),(.05,-.03)],
    [(-.68,1.3),(-.68,4.3),(-.4,4.3),(-.28,3.6),(-.18,3.0),(-.1,2.4),(-.02,1.3)],
    [(0,1.3),(.02,2.2),(.05,2.9),(.2,3.75),(.35,4.3),(.5,4.55),(.68,4.55),(.68,1.3)]]
c_labels = [("M203T341_1",-4.63,6.23),("M217T350_2",-2.33,5.74),("M215T268_1",-4.43,4.82),("M413T75",-2.58,4.04),("M263T159",-2.71,3.56),("M273T196",-2.54,3.09),("M247T250",-4.5,2.63),("M325T53",-2.47,2.63),("M367T224",-2.29,2.18),("M443T68",-2.74,1.49),("M546T474",4.25,1.54),("M463T299_2",4.23,5.17),("M487T242",5.14,4.81),("M287T236",3.31,4.54),("M292T257",5.79,4.27),("M789T268",3.8,3.93),("M459T254",5.53,3.63),("M321T253",4.19,2.64),("M116T162",5.24,2.34),("M590T36",3.35,2.05)]

PANELS = [
    dict(tag="a", comp="ZF5_vs_ZF0", n_up=172, n_down=98, up=a_up, down=a_down, none=a_none,
         up_rows=a_up_rows, down_rows=a_down_rows, none_rows=a_none_rows,
         up_mass=a_up_mass, down_mass=a_down_mass, none_masses=a_none_masses, labels=a_labels,
         xmax=13.38, yr=(-.41, 8.73), top=5, bottom=462, xt=(329, 508), yt=240,
         title_l=70, text_l=96, key_x=80, ly=(17, 38, 58, 79)),
    dict(tag="b", comp="ZF7_vs_ZF0", n_up=110, n_down=73, up=b_up, down=b_down, none=b_none,
         up_rows=b_up_rows, down_rows=b_down_rows, none_rows=b_none_rows,
         up_mass=b_up_mass, down_mass=b_down_mass, none_masses=b_none_masses, labels=b_labels,
         xmax=12.72, yr=(-.367, 7.89), top=550.3, bottom=1007.3, xt=(341, 1050), yt=788,
         title_l=71, text_l=96.5, key_x=87.7, ly=(562, 584, 604, 624)),
    dict(tag="c", comp="ZF7_vs_ZF5", n_up=67, n_down=164, up=c_up, down=c_down, none=c_none,
         up_rows=c_up_rows, down_rows=c_down_rows, none_rows=c_none_rows,
         up_mass=c_up_mass, down_mass=c_down_mass, none_masses=c_none_masses, labels=c_labels,
         xmax=11.49, yr=(-.37, 7.96), top=1095, bottom=1552.3, xt=(350, 1594), yt=1331,
         title_l=70, text_l=92, key_x=80.3, ly=(1107, 1129, 1149, 1169)),
]

LEFT, RIGHT = 64, 630.5
XTICKS = [-10, -5, 0, 5, 10]
fig = go.Figure()
ann, shapes = [], []

def flat(points, rows):
    out = list(points)
    for yv, xs in rows.items():
        out.extend((xv, yv) for xv in xs)
    return out

def mass(xy, color, name, xa, ya):
    fig.add_trace(go.Scatter(x=[p[0] for p in xy], y=[p[1] for p in xy], mode="lines", fill="toself",
                             fillcolor=color, line=dict(width=0, color=color), xaxis=xa, yaxis=ya,
                             showlegend=False, hoverinfo="skip", name=name))

def pts(xy, color, name, xa, ya):
    fig.add_trace(go.Scatter(x=[p[0] for p in xy], y=[p[1] for p in xy], mode="markers", name=name,
                             marker=dict(symbol="circle-open", size=5.6, color=color, line=dict(width=1.35, color=color)),
                             xaxis=xa, yaxis=ya, showlegend=False))

for i, p in enumerate(PANELS):
    s = "" if i == 0 else str(i + 1)
    xa, ya = "x" + s, "y" + s
    up_name, down_name = f"up {p['n_up']}", f"down {p['n_down']}"
    mass(p["up_mass"], RED, up_name, xa, ya)
    pts(flat(p["up"], p["up_rows"]), RED, up_name, xa, ya)
    mass(p["down_mass"], BLUE, down_name, xa, ya)
    pts(flat(p["down"], p["down_rows"]), BLUE, down_name, xa, ya)
    for m in p["none_masses"]:
        mass(m, BLACK, "No significant difference", xa, ya)
    pts(flat(p["none"], p["none_rows"]), BLACK, "No significant difference", xa, ya)

    axis_common = dict(showline=True, mirror=True, linecolor="#9a9a9a", linewidth=1.6, showgrid=False,
                       zeroline=False, ticks="outside", ticklen=5, tickwidth=1, tickcolor="#333333",
                       ticklabelstandoff=-4, tickfont=dict(family=FONT, size=20, color="#111111"))
    fig.update_layout(**{
        "xaxis" + s: dict(domain=[LEFT / W, RIGHT / W], range=[-p["xmax"], p["xmax"]], anchor=ya,
                          tickvals=XTICKS, **axis_common),
        "yaxis" + s: dict(domain=[1 - p["bottom"] / H, 1 - p["top"] / H], range=list(p["yr"]), anchor=xa,
                          tickvals=[0, 2, 4, 6, 8] if i == 0 else [0, 2, 4, 6], **axis_common),
    })
    ann.append(dict(text=f"log<sub>2</sub> Fold change ({p['comp']})", xref="paper", yref="paper",
                    x=p["xt"][0] / W, y=1 - p["xt"][1] / H, showarrow=False, xanchor="center", yanchor="middle",
                    font=dict(family=FONT, size=20.4, color="#111111")))
    ann.append(dict(text="−lg <i>P</i>值", xref="paper", yref="paper", x=23 / W, y=1 - p["yt"] / H, showarrow=False,
                    textangle=-90, xanchor="center", yanchor="middle", font=dict(family=FONT, size=20, color="#111111")))
    dash = dict(color="#b4b4b4", width=1.4, dash="9px,5px")
    for xv in (-THR_X, THR_X):
        shapes.append(dict(type="line", xref=xa, yref=ya + " domain", x0=xv, x1=xv, y0=0, y1=1, line=dash, layer="above"))
    shapes.append(dict(type="line", xref=xa + " domain", yref=ya, x0=0, x1=1, y0=THR_Y, y1=THR_Y, line=dash, layer="above"))

    for text, lx, ly_ in p["labels"]:
        ann.append(dict(text=text, x=lx, y=ly_, xref=xa, yref=ya, showarrow=False, xanchor="center", yanchor="middle",
                        font=dict(family=FONT, size=13.5, color="#111111")))
    ann.append(dict(text=p["tag"], xref="paper", yref="paper", x=613 / W, y=1 - (p["top"] + 16) / H, showarrow=False,
                    font=dict(family=FONT, size=20, color="#111111"), xanchor="center", yanchor="middle"))
    ly = p["ly"]
    ann.append(dict(text="updown", xref="paper", yref="paper", x=p["title_l"] / W, y=1 - ly[0] / H, showarrow=False,
                    xanchor="left", yanchor="middle", font=dict(family=FONT, size=20.4, color="#111111")))
    for txt, col, yy in ((up_name, RED, ly[1]), (down_name, BLUE, ly[2]), ("No significant difference", BLACK, ly[3])):
        ann.append(dict(text=txt, xref="paper", yref="paper", x=p["text_l"] / W, y=1 - yy / H, showarrow=False,
                        xanchor="left", yanchor="middle", font=dict(family=FONT, size=20.4, color="#111111")))
        r = 2.5
        shapes.append(dict(type="circle", xref="paper", yref="paper", x0=(p["key_x"] - r) / W, x1=(p["key_x"] + r) / W,
                           y0=1 - (yy + r) / H, y1=1 - (yy - r) / H, line=dict(color=col, width=1.3), layer="above"))

fig.update_layout(width=W, height=H, margin=dict(l=0, r=0, t=0, b=0), paper_bgcolor="white", plot_bgcolor="white",
                  font=dict(family=FONT), showlegend=False, annotations=ann, shapes=shapes)
fig.write_html("out.html", config={"displayModeBar": False},
               post_script="document.body.style.margin='0';document.documentElement.style.overflow='hidden';")
